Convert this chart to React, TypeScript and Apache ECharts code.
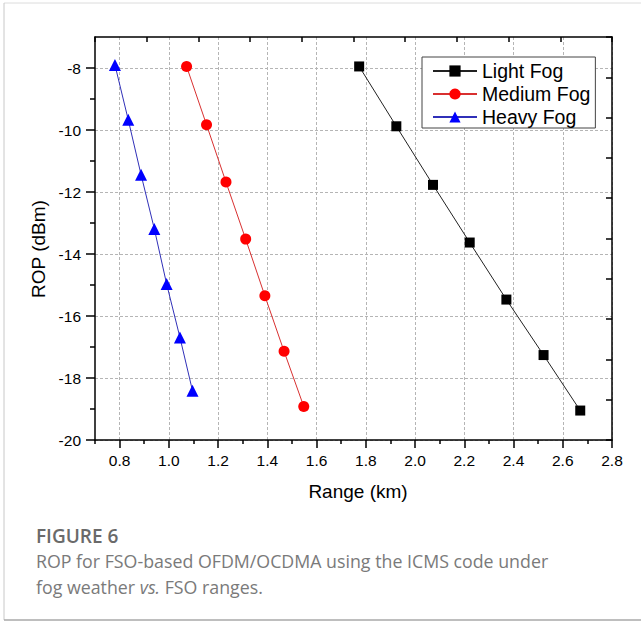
import React, { useEffect, useRef } from "react";
import * as echarts from "echarts";

const seriesNames = ["Light Fog", "Medium Fog", "Heavy Fog"];
const lightX = [1.773, 1.924, 2.073, 2.222, 2.371, 2.522, 2.671];
const lightY = [-7.95, -9.88, -11.77, -13.63, -15.47, -17.26, -19.05];
const mediumX = [1.072, 1.153, 1.232, 1.312, 1.39, 1.468, 1.548];
const mediumY = [-7.95, -9.83, -11.68, -13.52, -15.35, -17.14, -18.92];
const heavyX = [0.781, 0.835, 0.887, 0.941, 0.991, 1.045, 1.096];
const heavyY = [-7.9, -9.67, -11.44, -13.19, -14.97, -16.69, -18.41];

const xMajorTicks = [0.8, 1.0, 1.2, 1.4, 1.6, 1.8, 2.0, 2.2, 2.4, 2.6, 2.8];
const xMinorTicks = [0.7, 0.9, 1.1, 1.3, 1.5, 1.7, 1.9, 2.1, 2.3, 2.5, 2.7];
const yMajorTicks = [-20, -18, -16, -14, -12, -10, -8];
const yMinorTicks = [-19, -17, -15, -13, -11, -9];

const xTitle = "Range (km)";
const yTitle = "ROP (dBm)";
const figureLabel = "FIGURE 6";
const captionLine1 = "ROP for FSO-based OFDM/OCDMA using the ICMS code under";
const captionLine2a = "fog weather ";
const captionLine2b = "vs.";
const captionLine2c = " FSO ranges.";

const AX = "Liberation Sans, Arial, sans-serif";
const CAP = "Open Sans, Lato, sans-serif";

const zip = (xs: number[], ys: number[]) => xs.map((x, i) => [x, ys[i]]);

export default function App() {
  const ref = useRef<HTMLDivElement>(null);
  useEffect(() => {
    if (!ref.current) return;
    const chart = echarts.init(ref.current, null, { renderer: "svg" });
    const grid = { left: 95, right: 29, top: 37, bottom: 183 };
    const split = { show: true, lineStyle: { color: "#b5b5b5", type: [3, 2], width: 1 } };
    chart.setOption({
      animation: false,
      backgroundColor: "#fff",
      grid: { ...grid, containLabel: false },
      legend: {
        data: seriesNames,
        orient: "vertical",
        left: 422,
        top: 57,
        itemWidth: 44,
        itemHeight: 14,
        itemGap: 3,
        padding: [4, 5, 1, 10],
        borderColor: "#444",
        borderWidth: 1,
        backgroundColor: "#fff",
        textStyle: { fontFamily: AX, fontSize: 19.5, color: "#000", lineHeight: 20 },
      },
      xAxis: [
        {
          type: "value",
          position: "bottom",
          min: 0.7,
          max: 2.8,
          axisLine: { show: true, onZero: false, lineStyle: { color: "#000", width: 1.5 } },
          axisTick: { show: true, inside: false, length: 8, customValues: xMajorTicks, lineStyle: { color: "#000", width: 1.5 } },
          axisLabel: {
            customValues: xMajorTicks,
            fontFamily: AX,
            fontSize: 15.5,
            color: "#000",
            margin: 12,
            formatter: (v: number) => v.toFixed(1),
          },
          splitLine: split,
        },
        {
          type: "value",
          position: "bottom",
          min: 0.7,
          max: 2.8,
          axisLine: { show: false, onZero: false },
          axisTick: { show: true, inside: false, length: 4, customValues: xMinorTicks, lineStyle: { color: "#000", width: 1.5 } },
          axisLabel: { show: false },
          splitLine: { show: false },
        },
        {
          type: "value",
          position: "top",
          min: 0,
          max: 10,
          interval: 1,
          axisLine: { show: true, onZero: false, lineStyle: { color: "#000", width: 1.5 } },
          axisTick: { show: true, inside: true, length: 5, lineStyle: { color: "#000", width: 1.5 } },
          axisLabel: { show: false },
          splitLine: { show: false },
        },
      ],
      yAxis: [
        {
          type: "value",
          position: "left",
          min: -20,
          max: -7,
          axisLine: { show: true, onZero: false, lineStyle: { color: "#000", width: 1.5 } },
          axisTick: { show: true, inside: false, length: 9, customValues: yMajorTicks, lineStyle: { color: "#000", width: 1.5 } },
          axisLabel: {
            customValues: yMajorTicks,
            fontFamily: AX,
            fontSize: 15.5,
            color: "#000",
            margin: 14,
          },
          splitLine: split,
        },
        {
          type: "value",
          position: "left",
          min: -20,
          max: -7,
          axisLine: { show: false, onZero: false },
          axisTick: { show: true, inside: false, length: 5, customValues: yMinorTicks, lineStyle: { color: "#000", width: 1.5 } },
          axisLabel: { show: false },
          splitLine: { show: false },
        },
        {
          type: "value",
          position: "right",
          min: 0,
          max: 10,
          interval: 1,
          axisLine: { show: true, onZero: false, lineStyle: { color: "#000", width: 1.5 } },
          axisTick: { show: true, inside: true, length: 6, lineStyle: { color: "#000", width: 1.5 } },
          axisLabel: { show: false },
          splitLine: { show: false },
        },
      ],
      series: [
        {
          name: seriesNames[0],
          type: "line",
          data: zip(lightX, lightY),
          symbol: "rect",
          symbolSize: 10,
          itemStyle: { color: "#000" },
          lineStyle: { color: "#222", width: 1 },
        },
        {
          name: seriesNames[1],
          type: "line",
          data: zip(mediumX, mediumY),
          symbol: "circle",
          symbolSize: 11,
          itemStyle: { color: "#ff0000" },
          lineStyle: { color: "#d83030", width: 1 },
        },
        {
          name: seriesNames[2],
          type: "line",
          data: zip(heavyX, heavyY),
          symbol: "triangle",
          symbolSize: 12,
          itemStyle: { color: "#0000ff" },
          lineStyle: { color: "#3030b8", width: 1 },
        },
      ],
      graphic: [
        { type: "line", shape: { x1: 4, y1: 3, x2: 641, y2: 3 }, style: { stroke: "#dcdcdc", lineWidth: 1 } },
        { type: "line", shape: { x1: 4, y1: 3, x2: 4, y2: 620 }, style: { stroke: "#c8c8c8", lineWidth: 1 } },
        { type: "line", shape: { x1: 4, y1: 620, x2: 641, y2: 620 }, style: { stroke: "#a8a8a8", lineWidth: 1.5 } },
        {
          type: "text",
          x: 38,
          y: 249,
          rotation: Math.PI / 2,
          style: { text: yTitle, fontFamily: AX, fontSize: 19, fill: "#000", align: "center", verticalAlign: "middle" },
        },
        {
          type: "text",
          x: 358,
          y: 491,
          style: { text: xTitle, fontFamily: AX, fontSize: 19, fill: "#000", align: "center", verticalAlign: "middle" },
        },
        {
          type: "text",
          x: 36,
          y: 536,
          style: { text: figureLabel, fontFamily: CAP, fontSize: 19, fontWeight: 600, fill: "#6a6a6a", align: "left", verticalAlign: "middle" },
        },
        {
          type: "text",
          x: 36,
          y: 561,
          style: { text: captionLine1, fontFamily: CAP, fontSize: 17.8, fill: "#7a7a7a", align: "left", verticalAlign: "middle" },
        },
        {
          type: "text",
          x: 36,
          y: 587,
          style: {
            text: "{a|" + captionLine2a + "}{b|" + captionLine2b + "}{a|" + captionLine2c + "}",
            fontFamily: CAP,
            fontSize: 17.8,
            fill: "#7a7a7a",
            align: "left",
            verticalAlign: "middle",
            rich: {
              a: { fontFamily: CAP, fontSize: 17.8, fill: "#7a7a7a" },
              b: { fontFamily: CAP, fontSize: 17.8, fill: "#7a7a7a", fontStyle: "italic" },
            },
          },
        },
      ],
    });
    return () => chart.dispose();
  }, []);
  return (
    <div
      ref={ref}
      style={{ position: "fixed", left: 0, top: 0, width: 641, height: 623, background: "#fff" }}
    />
  );
}
